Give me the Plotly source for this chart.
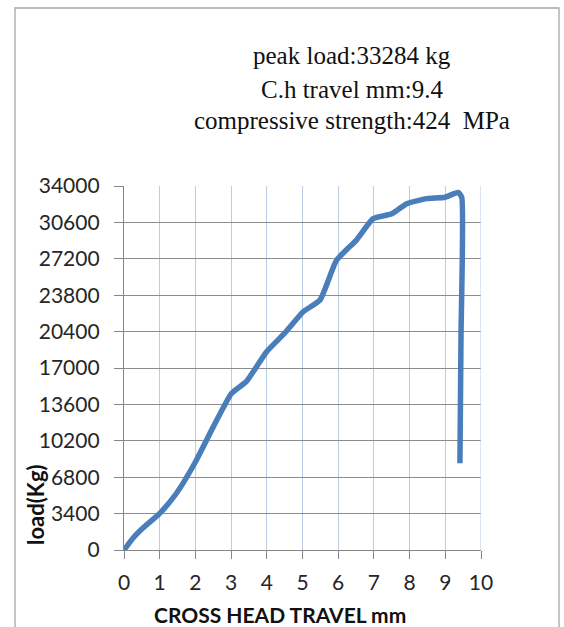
import plotly.graph_objects as go

travel_mm = [0, 0.25, 0.53, 1.0, 1.47, 1.98, 2.5, 3.01, 3.43, 3.99, 4.5, 5.02,
             5.49, 5.95, 6.51, 6.98, 7.5, 7.92, 8.48, 8.99, 9.36, 9.46, 9.44, 9.41]
load_kg = [0, 1100, 2050, 3420, 5300, 8100, 11500, 14620, 15750, 18500, 20250, 22250,
           23350, 27050, 28950, 30950, 31400, 32350, 32820, 32950, 33400, 32950, 20000, 8100]

x_ticks = list(range(0, 11))
y_ticks = [0, 3400, 6800, 10200, 13600, 17000, 20400, 23800, 27200, 30600, 34000]

info_lines = ["peak load:33284 kg", "C.h travel mm:9.4", "compressive strength:424  MPa"]

fig = go.Figure()
fig.add_trace(go.Scatter(
    x=travel_mm, y=load_kg, mode="lines",
    line=dict(color="#4a7ebb", width=5.5, shape="spline", smoothing=0.5),
    showlegend=False, hoverinfo="skip"))

tickfont = dict(family="Lato, Arial, sans-serif", size=21, color="#262626")

fig.update_layout(
    width=564, height=627,
    margin=dict(l=124, r=83, t=186, b=77),
    paper_bgcolor="white", plot_bgcolor="white",
    xaxis=dict(range=[0, 10], tickvals=x_ticks, ticktext=[str(v) for v in x_ticks],
               showgrid=True, gridcolor="#b9cde5", gridwidth=1,
               showline=True, linecolor="#868686", linewidth=1.3,
               ticks="outside", ticklen=8, tickcolor="#868686",
               ticklabelstandoff=6,
               zeroline=False, tickfont=tickfont, fixedrange=True),
    yaxis=dict(range=[0, 34000], tickvals=y_ticks, ticktext=[str(v) for v in y_ticks],
               showgrid=True, gridcolor="#8c8c8c", gridwidth=1.3,
               showline=True, linecolor="#868686", linewidth=1.3,
               ticks="outside", ticklen=9, tickcolor="#868686",
               ticklabelstandoff=10,
               zeroline=False, tickfont=tickfont, fixedrange=True),
)

# chart frame
fig.add_shape(type="rect", xref="paper", yref="paper",
              x0=(15 - 124) / 357, x1=(559 - 124) / 357, y0=-1.5, y1=(550 - 8) / 364,
              line=dict(color="#a6a6a6", width=1.3), fillcolor="rgba(0,0,0,0)", layer="below")

# right gridline at x=10
fig.add_shape(type="line", xref="x", yref="y", x0=10, x1=10, y0=0, y1=34000,
              line=dict(color="#b9cde5", width=1))

# info text
ys = [56, 89, 121]
for txt, yp in zip(info_lines, ys):
    fig.add_annotation(text=txt, xref="paper", yref="paper",
                       x=(352 - 124) / 357, y=(550 - yp) / 364,
                       xanchor="center", yanchor="middle", showarrow=False,
                       font=dict(family="Liberation Serif, Times New Roman, serif", size=25, color="#111111"))

# axis titles
fig.add_annotation(text="<b>CROSS HEAD TRAVEL mm</b>", xref="paper", yref="paper",
                   x=(280 - 124) / 357, y=-(614 - 550) / 364, xanchor="center", yanchor="middle",
                   showarrow=False,
                   font=dict(family="Lato, Arial, sans-serif", size=21, color="#111111"))
fig.add_annotation(text="<b>load(Kg)</b>", xref="paper", yref="paper",
                   x=-(124 - 35) / 357, y=(550 - 505) / 364, xanchor="center", yanchor="middle",
                   textangle=-90, showarrow=False,
                   font=dict(family="Lato, Arial, sans-serif", size=22, color="#111111"))

fig.write_html("out.html")
